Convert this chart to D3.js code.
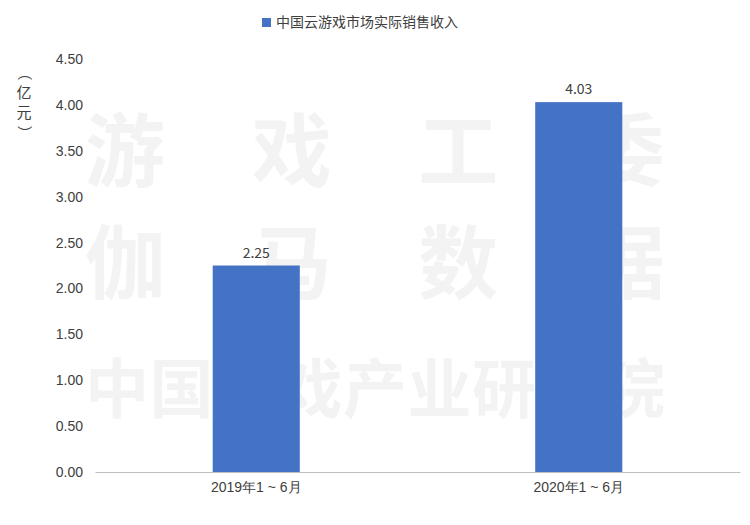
<!DOCTYPE html>
<html><head><meta charset="utf-8">
<script src="https://cdn.jsdelivr.net/npm/d3@7"></script>
<style>body{margin:0;background:#fff;font-family:"Noto Sans CJK SC","Noto Sans",sans-serif;}</style>
</head><body><svg id="chart" width="750" height="525"></svg>
<script>
var categories = ['2019年1 ~ 6月', '2020年1 ~ 6月'];
var revenue = [2.25, 4.03];
var yTicks = [0, 0.5, 1, 1.5, 2, 2.5, 3, 3.5, 4, 4.5];
var seriesName = '中国云游戏市场实际销售收入';

var svg = d3.select('#chart');
var m = {top: 59, right: 10, bottom: 53, left: 95};
var w = 750 - m.left - m.right, h = 525 - m.top - m.bottom;

// watermark
var wm = svg.append('g').attr('fill', '#f3f3f3').attr('font-weight', 'bold')
  .attr('font-family', '"Noto Sans CJK SC"');
[['游 戏 工 委', 180, 80], ['伽 马 数 据', 292, 80], ['中国游戏产业研究院', 412, 64]].forEach(function(r){
  wm.append('text').attr('x', 375).attr('y', r[1]).attr('text-anchor', 'middle')
    .attr('font-size', r[2]).attr('textLength', 580).attr('lengthAdjust', 'spacing').text(r[0]);
});

var g = svg.append('g').attr('transform', 'translate(' + m.left + ',' + m.top + ')');
var x = d3.scaleBand().domain(categories).range([0, w]).paddingInner(0.73).paddingOuter(0.365);
var y = d3.scaleLinear().domain([0, 4.5]).range([h, 0]);

g.append('g').attr('transform', 'translate(0,' + h + ')')
  .call(d3.axisBottom(x).tickSize(0).tickPadding(10))
  .call(function(a){ a.select('.domain').attr('stroke', '#bfbfbf'); a.selectAll('text').attr('font-size', 14).attr('fill', '#404040'); });

g.append('g').call(d3.axisLeft(y).tickValues(yTicks).tickFormat(d3.format('.2f')).tickSize(0).tickPadding(12))
  .call(function(a){ a.select('.domain').remove(); a.selectAll('text').attr('font-size', 14).attr('fill', '#404040'); });

g.selectAll('.bar').data(revenue).enter().append('rect')
  .attr('x', function(d, i){ return x(categories[i]); })
  .attr('y', function(d){ return y(d); })
  .attr('width', x.bandwidth())
  .attr('height', function(d){ return h - y(d); })
  .attr('fill', '#4472c4');

g.selectAll('.lbl').data(revenue).enter().append('text')
  .attr('x', function(d, i){ return x(categories[i]) + x.bandwidth() / 2; })
  .attr('y', function(d){ return y(d) - 8; })
  .attr('text-anchor', 'middle').attr('font-size', 14).attr('fill', '#404040')
  .text(function(d){ return d.toFixed(2); });

// legend
svg.append('rect').attr('x', 262).attr('y', 18).attr('width', 9).attr('height', 9).attr('fill', '#4472c4');
svg.append('text').attr('x', 276).attr('y', 27).attr('font-size', 14).attr('fill', '#404040').text(seriesName);

// y label
['（', '亿', '元', '）'].forEach(function(c, i){
  svg.append('text').attr('x', 24).attr('y', 78 + i * 20).attr('text-anchor', 'middle')
    .attr('font-size', 15).attr('fill', '#404040')
    .attr('transform', (c === '（' || c === '）') ? 'rotate(90,24,' + (73 + i * 20) + ')' : null)
    .text(c);
});
</script></body></html>
